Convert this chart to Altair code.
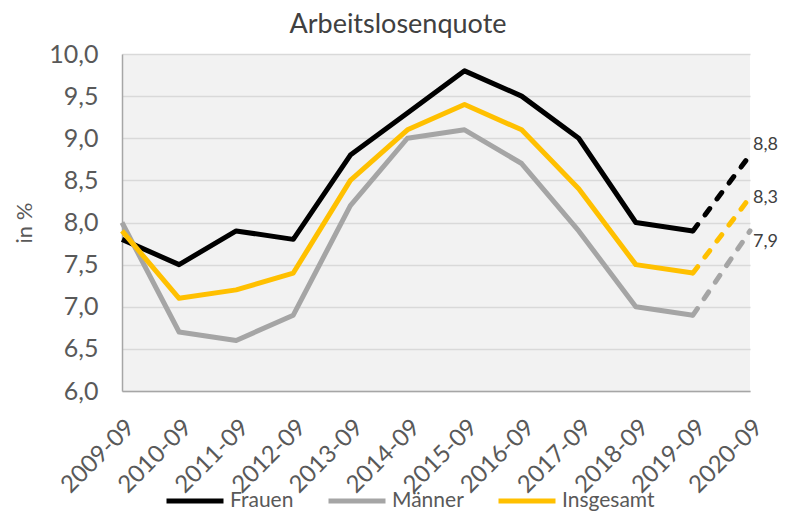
import altair as alt
import pandas as pd

years = ["2009-09", "2010-09", "2011-09", "2012-09", "2013-09", "2014-09",
         "2015-09", "2016-09", "2017-09", "2018-09", "2019-09", "2020-09"]
frauen = [7.8, 7.5, 7.9, 7.8, 8.8, 9.3, 9.8, 9.5, 9.0, 8.0, 7.9, 8.8]
maenner = [8.0, 6.7, 6.6, 6.9, 8.2, 9.0, 9.1, 8.7, 7.9, 7.0, 6.9, 7.9]
insgesamt = [7.9, 7.1, 7.2, 7.4, 8.5, 9.1, 9.4, 9.1, 8.4, 7.5, 7.4, 8.3]
series_names = ["Frauen", "Männer", "Insgesamt"]
series_colors = ["#000000", "#a5a5a5", "#ffc000"]

rows = []
for name, vals in zip(series_names, [frauen, maenner, insgesamt]):
    for i, (yr, v) in enumerate(zip(years, vals)):
        rows.append({"Jahr": yr, "Wert": v, "Serie": name, "idx": i,
                     "label": f"{v:.1f}".replace(".", ",")})
df = pd.DataFrame(rows)
n = len(years)

FONT = "Lato"
GRAY = "#595959"

x_enc = alt.X("Jahr:O", scale=alt.Scale(type="point", padding=0, domain=years),
              axis=alt.Axis(title=None, labelAngle=-45, labelFontSize=24,
                            labelColor=GRAY, ticks=False, grid=False,
                            domainColor="#a6a6a6", domainWidth=1.5,
                            labelPadding=24, labelFont=FONT))
y_enc = alt.Y("Wert:Q", scale=alt.Scale(domain=[6, 10], nice=False, zero=False),
              axis=alt.Axis(title="in %", values=[6, 6.5, 7, 7.5, 8, 8.5, 9, 9.5, 10],
                            labelExpr="replace(format(datum.value, '.1f'), '.', ',')",
                            labelFontSize=25, labelColor=GRAY, labelFont=FONT,
                            ticks=False, grid=True, gridColor="#d9d9d9", gridWidth=1.5,
                            domainColor="#a6a6a6", domainWidth=1.5, labelPadding=24,
                            titleFontSize=22, titleColor=GRAY, titleFont=FONT,
                            titleFontWeight="normal", titlePadding=12))
color_enc = alt.Color("Serie:N",
                      scale=alt.Scale(domain=series_names, range=series_colors),
                      legend=alt.Legend(title=None, orient="none", direction="horizontal",
                                        legendX=42, legendY=416,
                                        symbolType="stroke", symbolStrokeWidth=5,
                                        symbolSize=3249, labelFontSize=21,
                                        labelColor=GRAY, labelFont=FONT,
                                        labelOffset=4, columnPadding=24))

base = alt.Chart(df)

solid = base.transform_filter(alt.datum.idx <= n - 2).mark_line(
    strokeWidth=5, strokeJoin="round").encode(x=x_enc, y=y_enc, color=color_enc,
                                                detail="Serie:N")
dashed = base.transform_filter(alt.datum.idx >= n - 2).mark_line(
    strokeWidth=5, strokeDash=[8, 12], strokeCap="round").encode(
    x=x_enc, y=y_enc, color=alt.Color("Serie:N",
                                      scale=alt.Scale(domain=series_names, range=series_colors),
                                      legend=None), detail="Serie:N")

offsets = {"Frauen": (3, -10), "Männer": (3, 11), "Insgesamt": (3, 1)}
labels = []
for name in series_names:
    dx, dy = offsets[name]
    labels.append(
        base.transform_filter((alt.datum.idx == n - 1) & (alt.datum.Serie == name))
        .mark_text(align="left", baseline="middle", dx=dx, dy=dy, fontSize=18,
                   color="#404040", font=FONT)
        .encode(x=x_enc, y=y_enc, text="label:N")
    )

chart = alt.layer(solid, dashed, *labels).properties(
    width=628, height=337,
    title=alt.TitleParams("Arbeitslosenquote", fontSize=27, color="#404040",
                          font=FONT, fontWeight="normal", anchor="middle",
                          frame="group", dx=-38, offset=3),
    autosize=alt.AutoSizeParams(type="none"),
    padding={"left": 114, "top": 46, "right": 28, "bottom": 124},
).configure(background="white").configure_view(fill="#f2f2f2", stroke=None)

chart.save("out.html", embed_options={"renderer": "svg", "actions": False})
